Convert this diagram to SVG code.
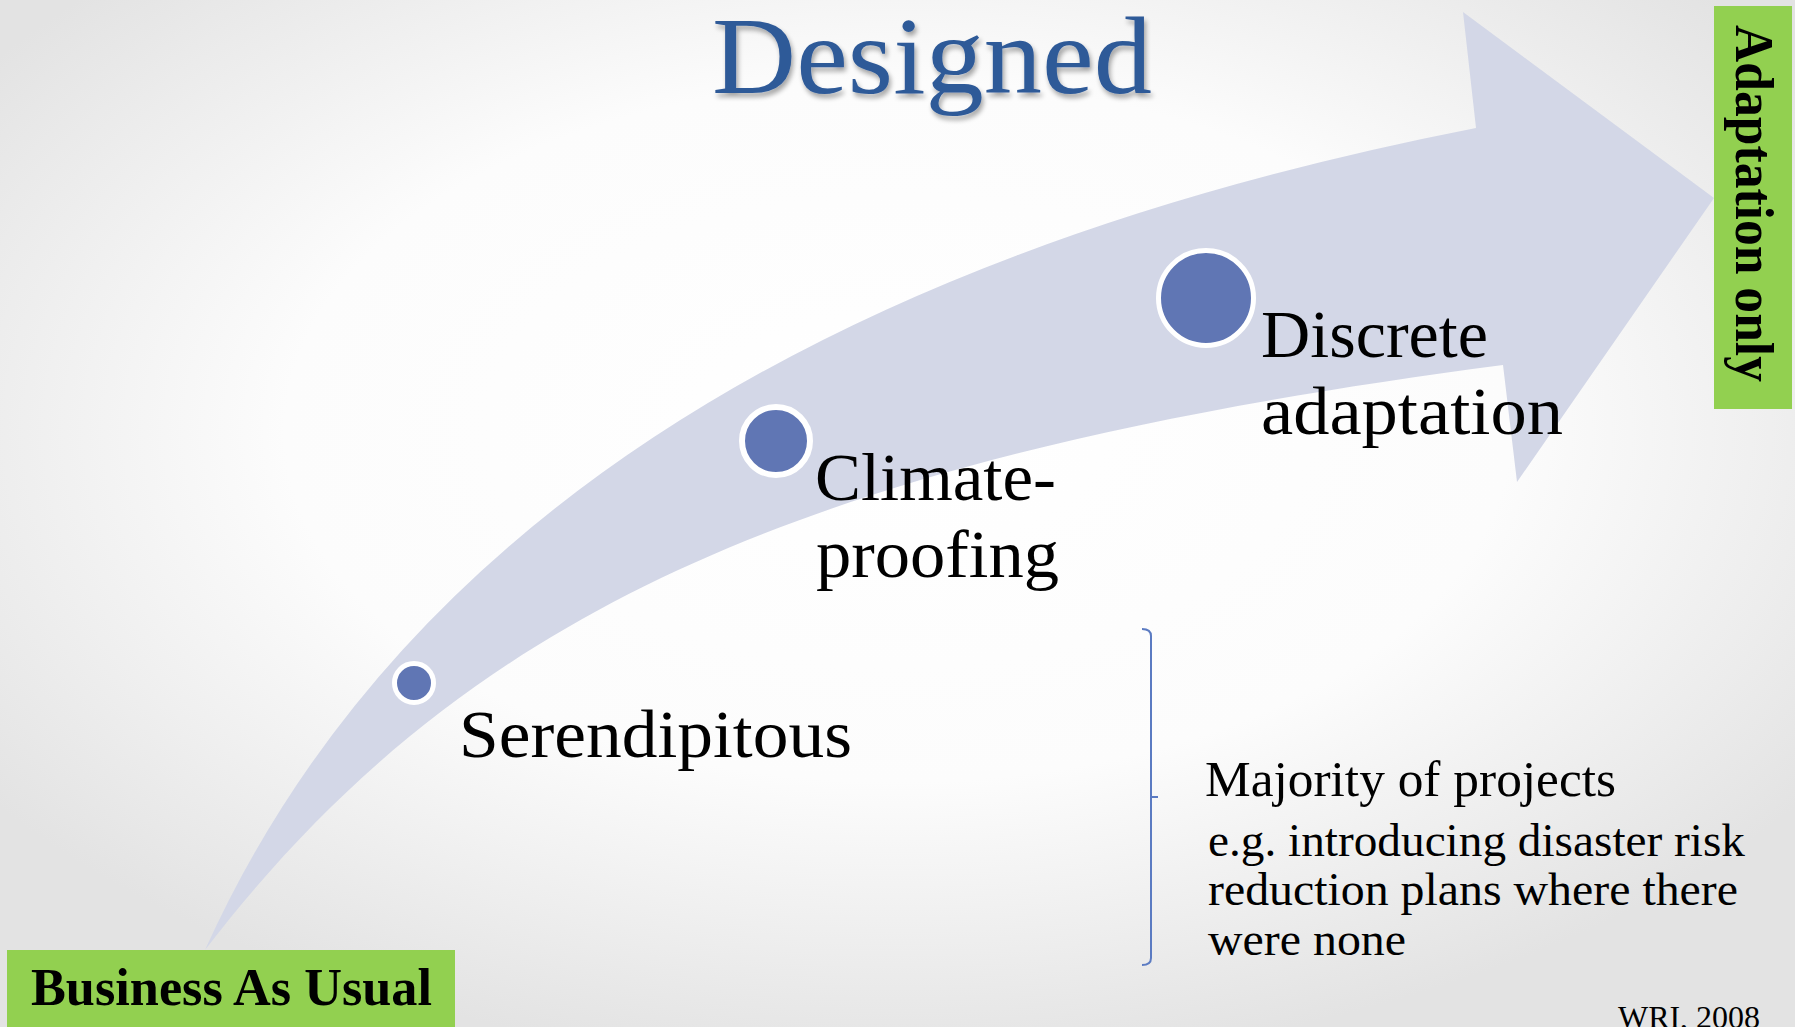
<svg xmlns="http://www.w3.org/2000/svg" width="1795" height="1027" viewBox="0 0 1795 1027">
  <defs>
    <radialGradient id="bg" cx="50%" cy="42%" r="62%">
      <stop offset="0" stop-color="#ffffff"/>
      <stop offset="0.55" stop-color="#fcfcfc"/>
      <stop offset="1" stop-color="#e3e3e3"/>
    </radialGradient>
    <filter id="shadow" x="-10%" y="-20%" width="120%" height="150%">
      <feGaussianBlur in="SourceAlpha" stdDeviation="2.5"/>
      <feOffset dx="2" dy="4" result="b"/>
      <feComponentTransfer><feFuncA type="linear" slope="0.35"/></feComponentTransfer>
      <feMerge><feMergeNode/><feMergeNode in="SourceGraphic"/></feMerge>
    </filter>
    <style>
      .lbl { font-family: "Liberation Serif", "Times New Roman", serif; fill: #000; }
      .big { font-size: 68px; }
      .mid { font-size: 50px; }
      .sm { font-size: 46px; }
      .bold { font-weight: bold; }
      .green { fill: #92D050; }
      .dot { fill: #6076B4; stroke: #ffffff; }
    </style>
  </defs>

  <rect x="0" y="0" width="1795" height="1027" fill="url(#bg)"/>

  <g id="connectors">
    <path id="main-arrow" d="M205,950 Q489,321 1476,128 L1463,12 L1714,198 L1517,482 L1503,365 C809,456 467,609 205,950 Z" fill="#D3D7E7"/>
  </g>

  <g id="title">
    <text x="712" y="93" filter="url(#shadow)" style="font-family:'Liberation Serif','Times New Roman',serif;font-size:110px;fill:#2F5A98" textLength="440" lengthAdjust="spacingAndGlyphs">Designed</text>
  </g>

  <g id="node-serendipitous">
    <circle class="dot" cx="414" cy="683" r="19.5" stroke-width="5"/>
    <text class="lbl big" x="459" y="757" textLength="393" lengthAdjust="spacingAndGlyphs">Serendipitous</text>
  </g>

  <g id="node-climate-proofing">
    <circle class="dot" cx="776" cy="441" r="34" stroke-width="6"/>
    <text class="lbl big" x="815" y="500" textLength="241" lengthAdjust="spacingAndGlyphs">Climate-</text>
    <text class="lbl big" x="816" y="577" textLength="243" lengthAdjust="spacingAndGlyphs">proofing</text>
  </g>

  <g id="node-discrete-adaptation">
    <circle class="dot" cx="1206" cy="298" r="47.5" stroke-width="5"/>
    <text class="lbl big" x="1261" y="357" textLength="227" lengthAdjust="spacingAndGlyphs">Discrete</text>
    <text class="lbl big" x="1261" y="434" textLength="302" lengthAdjust="spacingAndGlyphs">adaptation</text>
  </g>

  <g id="node-business-as-usual">
    <rect class="green" x="7" y="950" width="448" height="77"/>
    <text class="lbl bold" x="31" y="1005" style="font-size:53px" textLength="401" lengthAdjust="spacingAndGlyphs">Business As Usual</text>
  </g>

  <g id="node-adaptation-only">
    <rect class="green" x="1714" y="6" width="78" height="403"/>
    <text class="lbl bold" transform="translate(1736,25) rotate(90)" x="0" y="0" style="font-size:54px" textLength="357" lengthAdjust="spacingAndGlyphs">Adaptation only</text>
  </g>

  <g id="node-majority">
    <path d="M1142,629 Q1151,629 1151,636 L1151,958 Q1151,965 1142,965 M1151,797 L1158,797" fill="none" stroke="#5B7BC2" stroke-width="2"/>
    <text class="lbl mid" x="1205" y="796" textLength="411" lengthAdjust="spacingAndGlyphs">Majority of projects</text>
    <text class="lbl sm" x="1208" y="856" textLength="537" lengthAdjust="spacingAndGlyphs">e.g. introducing disaster risk</text>
    <text class="lbl sm" x="1208" y="905" textLength="530" lengthAdjust="spacingAndGlyphs">reduction plans where there</text>
    <text class="lbl sm" x="1208" y="955" textLength="198" lengthAdjust="spacingAndGlyphs">were none</text>
  </g>

  <g id="source">
    <text class="lbl" x="1618" y="1028" style="font-size:32px" textLength="142" lengthAdjust="spacingAndGlyphs">WRI, 2008</text>
  </g>
</svg>
